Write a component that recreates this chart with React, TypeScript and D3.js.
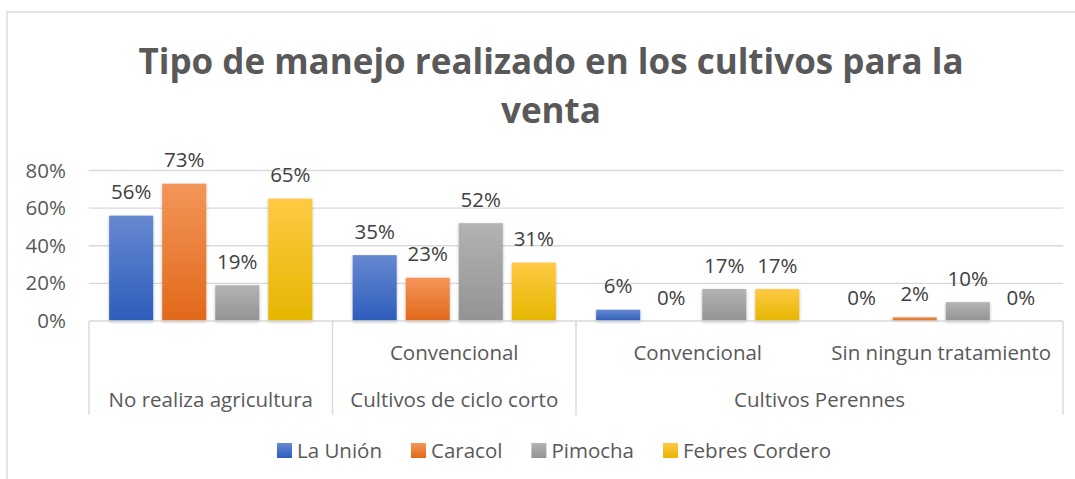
import React, { useRef, useEffect } from 'react';
import * as d3 from 'd3';

const W = 1075;
const H = 479;

const titleLines = ['Tipo de manejo realizado en los cultivos para la', 'venta'];
const seriesNames = ['La Unión', 'Caracol', 'Pimocha', 'Febres Cordero'];
const leafLabels = ['', 'Convencional', 'Convencional', 'Sin ningun tratamiento'];
const groupLabels = ['No realiza agricultura', 'Cultivos de ciclo corto', 'Cultivos Perennes'];
const groupSpans = [1, 1, 2];
const laUnion = [0.56, 0.35, 0.06, 0];
const caracol = [0.73, 0.23, 0, 0.02];
const pimocha = [0.19, 0.52, 0.17, 0.1];
const febres = [0.65, 0.31, 0.17, 0];
const yTicks = [0, 0.2, 0.4, 0.6, 0.8];

const gradTop = ['#6688d0', '#f39659', '#b3b3b3', '#ffc944'];
const gradBottom = ['#2d5dbc', '#e2681b', '#939393', '#e6b600'];

const FONT = '"Open Sans", sans-serif';

const App = () => {
  const ref = useRef<SVGSVGElement>(null);

  useEffect(() => {
    const svg = d3.select(ref.current);
    svg.selectAll('*').remove();

    const values = [laUnion, caracol, pimocha, febres];
    const plot = { left: 89, right: 1063, top: 170.5, bottom: 321 };

    const defs = svg.append('defs');
    seriesNames.forEach((s, i) => {
      const g = defs.append('linearGradient')
        .attr('id', 'grad' + i)
        .attr('x1', 0).attr('y1', 0).attr('x2', 0).attr('y2', 1);
      g.append('stop').attr('offset', '0%').attr('stop-color', gradTop[i]);
      g.append('stop').attr('offset', '100%').attr('stop-color', gradBottom[i]);
    });
    const f = defs.append('filter').attr('id', 'shadow')
      .attr('x', '-20%').attr('y', '-20%').attr('width', '140%').attr('height', '140%');
    f.append('feDropShadow').attr('dx', 0).attr('dy', 1).attr('stdDeviation', 1.8)
      .attr('flood-color', '#000').attr('flood-opacity', 0.28);

    // chart frame
    svg.append('rect')
      .attr('x', 7).attr('y', 12).attr('width', 1200).attr('height', 600)
      .attr('fill', 'white').attr('stroke', '#d9d9d9').attr('stroke-width', 1.3);

    // title
    svg.append('g').selectAll('text')
      .data(titleLines)
      .enter().append('text')
      .attr('x', 551)
      .attr('y', (d, i) => 74 + i * 49)
      .attr('text-anchor', 'middle')
      .style('font-family', FONT)
      .style('font-weight', 700)
      .style('font-size', '35px')
      .attr('fill', '#595959')
      .text(d => d);

    const y = d3.scaleLinear().domain([0, 0.8]).range([plot.bottom, plot.top]);
    const x0 = d3.scaleBand<number>()
      .domain(d3.range(leafLabels.length))
      .range([plot.left, plot.right])
      .padding(0);
    const x1 = d3.scaleBand<number>()
      .domain(d3.range(seriesNames.length))
      .range([0, x0.bandwidth()])
      .paddingInner(0.17)
      .paddingOuter(0.38);

    // gridlines
    svg.append('g').selectAll('line')
      .data(yTicks.filter(t => t > 0))
      .enter().append('line')
      .attr('x1', plot.left).attr('x2', plot.right)
      .attr('y1', d => y(d)).attr('y2', d => y(d))
      .attr('stroke', '#d9d9d9').attr('stroke-width', 1.4);

    // y labels
    svg.append('g').selectAll('text')
      .data(yTicks)
      .enter().append('text')
      .attr('x', 66)
      .attr('y', d => y(d) + 7)
      .attr('text-anchor', 'end')
      .style('font-family', FONT)
      .style('font-size', '20.5px')
      .attr('fill', '#595959')
      .text(d => d3.format('.0%')(d));

    // bars
    seriesNames.forEach((s, si) => {
      svg.append('g').selectAll('rect')
        .data(values[si])
        .enter().append('rect')
        .attr('x', (d, ci) => x0(ci)! + x1(si)!)
        .attr('y', d => y(d))
        .attr('width', x1.bandwidth())
        .attr('height', d => y(0) - y(d))
        .attr('fill', `url(#grad${si})`)
        .attr('filter', 'url(#shadow)');
    });

    // data labels
    seriesNames.forEach((s, si) => {
      svg.append('g').selectAll('text')
        .data(values[si])
        .enter().append('text')
        .attr('x', (d, ci) => x0(ci)! + x1(si)! + x1.bandwidth() / 2)
        .attr('y', d => y(d) - 16.5)
        .attr('text-anchor', 'middle')
        .style('font-family', FONT)
        .style('font-size', '20.5px')
        .attr('fill', '#404040')
        .text(d => d3.format('.0%')(d));
    });

    // category axis
    const axis = svg.append('g');
    axis.append('line')
      .attr('x1', plot.left).attr('x2', plot.right)
      .attr('y1', plot.bottom).attr('y2', plot.bottom)
      .attr('stroke', '#d9d9d9').attr('stroke-width', 1.4);

    const bounds = [0];
    groupSpans.forEach(sp => bounds.push(bounds[bounds.length - 1] + sp));
    axis.selectAll('.sep')
      .data(bounds)
      .enter().append('line')
      .attr('class', 'sep')
      .attr('x1', d => (d < leafLabels.length ? x0(d)! : plot.right))
      .attr('x2', d => (d < leafLabels.length ? x0(d)! : plot.right))
      .attr('y1', plot.bottom).attr('y2', 415)
      .attr('stroke', '#d9d9d9').attr('stroke-width', 1.4);

    axis.selectAll('.leaf')
      .data(leafLabels)
      .enter().append('text')
      .attr('class', 'leaf')
      .attr('x', (d, i) => x0(i)! + x0.bandwidth() / 2)
      .attr('y', 360)
      .attr('text-anchor', 'middle')
      .style('font-family', FONT)
      .style('font-size', '20.5px')
      .attr('fill', '#595959')
      .text(d => d);

    axis.selectAll('.grp')
      .data(groupLabels)
      .enter().append('text')
      .attr('class', 'grp')
      .attr('x', (d, i) => {
        const a = x0(bounds[i])!;
        const b = bounds[i + 1] < leafLabels.length ? x0(bounds[i + 1])! : plot.right;
        return (a + b) / 2;
      })
      .attr('y', 407)
      .attr('text-anchor', 'middle')
      .style('font-family', FONT)
      .style('font-size', '20.5px')
      .attr('fill', '#595959')
      .text(d => d);

    // legend
    const legend = svg.append('g');
    const items = legend.selectAll('g')
      .data(seriesNames)
      .enter().append('g');
    items.append('rect')
      .attr('width', 15).attr('height', 15)
      .attr('y', 443)
      .attr('fill', (d, i) => `url(#grad${i})`);
    items.append('text')
      .attr('x', 20)
      .attr('y', 458)
      .style('font-family', FONT)
      .style('font-size', '20.5px')
      .attr('fill', '#595959')
      .text(d => d);
    const gap = 29;
    let cx = 0;
    const offs: number[] = [];
    items.each(function () {
      const t = d3.select(this).select('text').node() as SVGTextElement;
      offs.push(cx);
      cx += 20 + t.getComputedTextLength() + gap;
    });
    const total = cx - gap;
    const start = 554 - total / 2;
    items.attr('transform', (d, i) => `translate(${start + offs[i]},0)`);
  }, []);

  return (
    <svg
      ref={ref}
      width={W}
      height={H}
      style={{ position: 'absolute', left: 0, top: 0, background: 'white' }}
    />
  );
};

export default App;
